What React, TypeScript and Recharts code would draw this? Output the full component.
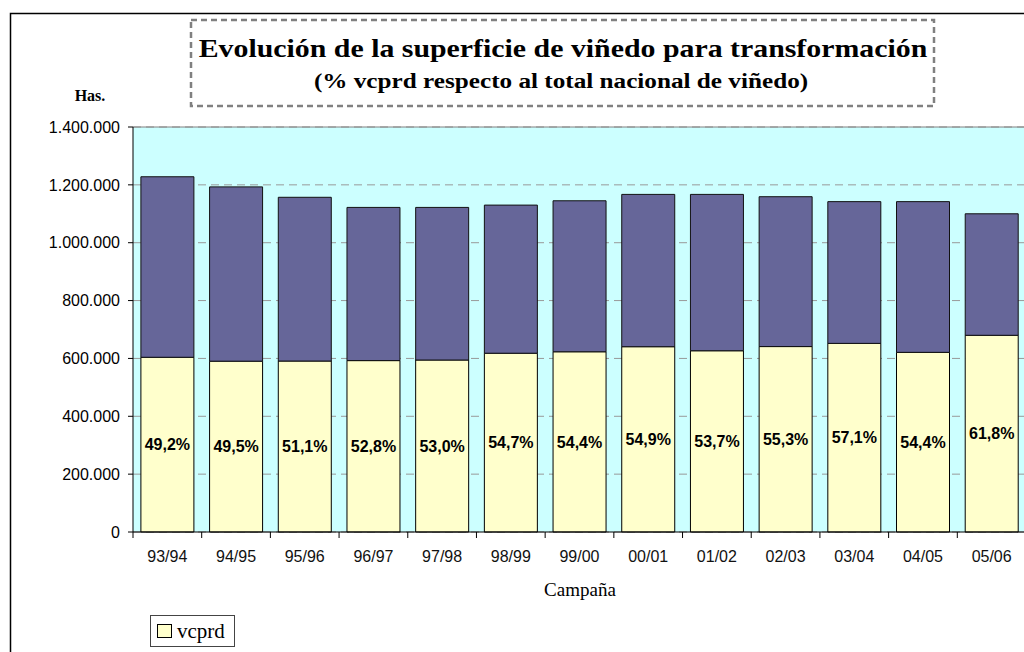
import React from 'react';
import { BarChart, Bar, XAxis, YAxis, CartesianGrid, Legend, LabelList, ReferenceLine } from 'recharts';

const categories = ['93/94', '94/95', '95/96', '96/97', '97/98', '98/99', '99/00', '00/01', '01/02', '02/03', '03/04', '04/05', '05/06'];
const vcprd = [604000, 590500, 591000, 592500, 594500, 618000, 623000, 640500, 626500, 641000, 652000, 621000, 680000];
const resto = [624000, 602500, 566000, 529500, 527500, 512000, 522000, 526500, 540500, 518000, 490000, 521000, 420000];
const pctLabels = ['49,2%', '49,5%', '51,1%', '52,8%', '53,0%', '54,7%', '54,4%', '54,9%', '53,7%', '55,3%', '57,1%', '54,4%', '61,8%'];
const yTicks = [0, 200000, 400000, 600000, 800000, 1000000, 1200000, 1400000];

const data = categories.map((c, i) => ({
  campana: c,
  vcprd: vcprd[i],
  resto: resto[i],
  pct: pctLabels[i],
}));

const SANS = '"Liberation Sans", Arial, sans-serif';
const SERIF = '"Liberation Serif", "Times New Roman", serif';

const CHART_W = 1040;
const PLOT_LEFT = 133;
const PLOT_W = 893;
const HALF_BAND = PLOT_W / categories.length / 2;

const fmt = (v: number) => String(v).replace(/\B(?=(\d{3})+(?!\d))/g, '.');

const XTick = (props: any) => {
  const { x, y, payload } = props;
  return (
    <g>
      <line x1={x - HALF_BAND} x2={x - HALF_BAND} y1={y} y2={y + 6} stroke="#000" />
      <text x={x} y={y + 30} textAnchor="middle" fontFamily={SANS} fontSize={16} fill="#111">
        {payload.value}
      </text>
    </g>
  );
};

const LegendBox = () => (
  <div
    style={{
      border: '1px solid #444',
      width: 85,
      height: 32,
      boxSizing: 'border-box',
      display: 'flex',
      alignItems: 'center',
      paddingLeft: 6,
      background: '#fff',
    }}
  >
    <span style={{ width: 13, height: 12, border: '1px solid #000', background: '#FFFFCC', display: 'inline-block' }} />
    <span style={{ fontFamily: SERIF, fontSize: 21, marginLeft: 5, lineHeight: '21px' }}>vcprd</span>
  </div>
);

export default function App() {
  return (
    <div style={{ position: 'fixed', left: 0, top: 0, width: 1024, height: 652, overflow: 'hidden', background: '#fff' }}>
      <BarChart
        width={CHART_W}
        height={652}
        data={data}
        margin={{ top: 127, right: CHART_W - PLOT_LEFT - PLOT_W, bottom: 90, left: 0 }}
        barCategoryGap="11.5%"
      >
        <CartesianGrid vertical={false} fill="#CCFFFF" fillOpacity={1} stroke="#999" strokeDasharray="8 5" />
        <ReferenceLine y={yTicks[yTicks.length - 1]} stroke="#808080" />
        <XAxis
          dataKey="campana"
          height={30}
          stroke="#000"
          tickLine={false}
          tickSize={0}
          tickMargin={0}
          tick={<XTick />}
          interval={0}
        />
        <YAxis
          width={PLOT_LEFT}
          domain={[0, yTicks[yTicks.length - 1]]}
          ticks={yTicks}
          tickFormatter={fmt}
          stroke="#000"
          tickSize={5}
          tickMargin={8}
          tick={{ fontFamily: SANS, fontSize: 16, fill: '#000' }}
        />
        <Legend
          layout="horizontal"
          verticalAlign="middle"
          align="center"
          content={<LegendBox />}
          wrapperStyle={{ left: 150, top: 615, width: 'auto', height: 'auto' }}
        />
        <Bar dataKey="vcprd" stackId="a" fill="#FFFFCC" stroke="#000" strokeWidth={1} isAnimationActive={false}>
          <LabelList dataKey="pct" position="center" fontFamily={SANS} fontSize={16} fontWeight="bold" fill="#000" />
        </Bar>
        <Bar dataKey="resto" stackId="a" fill="#666699" stroke="#111" strokeWidth={1} isAnimationActive={false} />
      </BarChart>
      <svg width={1024} height={652} style={{ position: 'absolute', left: 0, top: 0, pointerEvents: 'none' }}>
        <rect x={10.5} y={13.5} width={1100} height={700} fill="none" stroke="#000" strokeWidth={1.5} />
        <rect x={191} y={20} width={743} height={86} fill="none" stroke="#808080" strokeWidth={2.5} strokeDasharray="6 4" />
        <text
          transform="translate(563,57) scale(1.148,1)"
          textAnchor="middle"
          fontFamily={SERIF}
          fontWeight="bold"
          fontSize={26}
          fill="#000"
        >
          Evolución de la superficie de viñedo para transformación
        </text>
        <text
          transform="translate(561,88) scale(1.2,1)"
          textAnchor="middle"
          fontFamily={SERIF}
          fontWeight="bold"
          fontSize={21}
          fill="#000"
        >
          (% vcprd respecto al total nacional de viñedo)
        </text>
        <text x={90} y={101} textAnchor="middle" fontFamily={SERIF} fontWeight="bold" fontSize={16} fill="#000">
          Has.
        </text>
        <text x={580} y={596} textAnchor="middle" fontFamily={SERIF} fontSize={19} fill="#000">
          Campaña
        </text>
      </svg>
    </div>
  );
}
